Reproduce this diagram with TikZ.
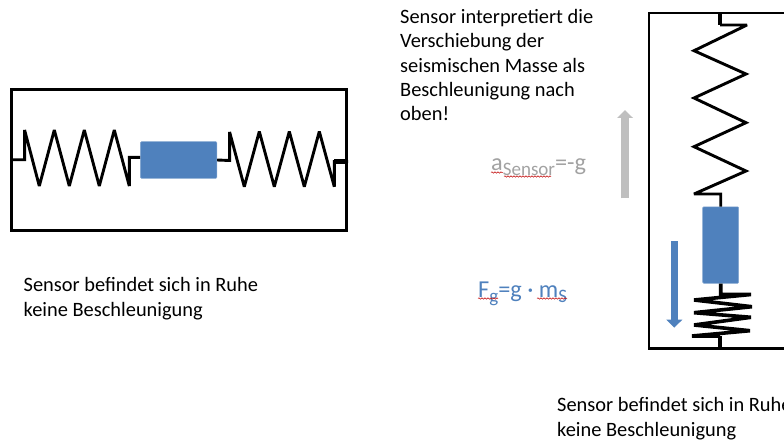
\documentclass[tikz,border=0pt]{standalone}
\usepackage{fontspec}
\setmainfont{Carlito}
\usetikzlibrary{arrows.meta,decorations.pathmorphing}
\definecolor{massblue}{HTML}{4F81BD}
\definecolor{accgray}{HTML}{BFBFBF}
\tikzset{
  rahmen/.style={draw=black,line width=2.7pt,inner sep=0pt},
  feder/.style={draw=black,line width=2.9pt,line join=miter,miter limit=3},
  masse/.style={fill=massblue,draw=massblue!70!white,line width=0.5pt,rounded corners=1pt,inner sep=0pt},
  txt/.style={font=\fontsize{20.4}{24.4}\selectfont,align=left,anchor=base west,inner sep=0pt},
  formel/.style={font=\fontsize{24.3}{28}\selectfont,anchor=base west,inner sep=0pt},
  pfeil/.style={line width=7.5pt,-{Triangle[width=15.5pt,length=8pt]}},
  wavy/.style={draw=red!75!black,line width=0.5pt,decorate,decoration={snake,amplitude=0.7pt,segment length=3pt}}
}
\newcommand{\sub}[1]{\raisebox{-5pt}{\fontsize{19}{22}\selectfont #1}}
\begin{document}
\begin{tikzpicture}[x=1pt,y=-1pt]
  \useasboundingbox (0,0) rectangle (784,441);
  \clip (0,0) rectangle (784,441);
  % left sensor
  \node[rahmen,minimum width=335pt,minimum height=141pt] (rahmenL) at (179.2,159.7) {};
  \node[masse,minimum width=76.5pt,minimum height=36.5pt] (masseL) at (178.7,160) {};
  \draw[feder] (rahmenL.west) -- (24.6,159.7) -- (24.6,130) -- (39.3,186) -- (54.3,130) -- (69.3,186)
    -- (84.3,130) -- (99.3,186) -- (114.3,130) -- (129.3,186) -- (129.3,157.3) -- (masseL.west |- 0,157.3);
  \draw[feder] (masseL.east) -- (229.6,160.5) -- (229.6,132) -- (244.3,186.7) -- (259.3,131.5) -- (274.3,186.7)
    -- (289.3,131.5) -- (304.3,186.7) -- (319.3,131.5) -- (334.3,186.7) -- (334.3,161.5) -- (rahmenL.east |- 0,161.5);
  \draw[line width=4.4pt] (334.3,161.5) -- (rahmenL.east |- 0,161.5);
  % right sensor
  \node[rahmen,minimum width=171pt,minimum height=335.3pt] (rahmenR) at (734.5,180.7) {};
  \node[masse,minimum width=36pt,minimum height=76.5pt] (masseR) at (720.7,245) {};
  \coordinate (obenR) at (720,13);
  \coordinate (untenR) at (720,348.3);
  \draw[line width=4.6pt] (obenR) -- (720,25);
  \draw[feder] (720,25) -- (747,25) -- (694,50.7) -- (746,74) -- (694,98) -- (746,122.7) -- (694,146.7)
    -- (746,171) -- (694,194) -- (720.7,194) -- (masseR.north);
  \draw[feder,line width=3.6pt] (masseR.south) -- (720.7,294.5) -- (751,294.5) -- (694,300) -- (752,306.7) -- (694,312.7)
    -- (751,317.3) -- (694,325) -- (750,330.7) -- (692,336) -- (720,336);
  \draw[line width=4.6pt] (720,336) -- (untenR);
  % arrows
  \coordinate (grauA) at (625,198.3);
  \coordinate (grauB) at (625,110);
  \coordinate (blauA) at (674.3,241);
  \coordinate (blauB) at (674.3,327.7);
  \draw[pfeil,accgray] (grauA) -- (grauB);
  \draw[pfeil,massblue] (blauA) -- (blauB);
  % text
  \node[txt] (erklaerung) at (400,121) {Sensor interpretiert die\\Verschiebung der\\seismischen Masse als\\Beschleunigung nach\\oben!};
  \node[txt] (ruheL) at (23.5,316) {Sensor befindet sich in Ruhe\\keine Beschleunigung};
  \node[txt] (ruheR) at (557,436) {Sensor befindet sich in Ruhe\\keine Beschleunigung};
  \node[formel,text=accgray!85!black] (asensor) at (491,170.5) {a\sub{Sensor}=-g};
  \node[formel,text=massblue] (fg) at (478,297.5) {F\sub{g}=g · m\sub{S}};
  % spelling marks
  \draw[wavy] (491,172.5) -- (503,172.5);
  \draw[wavy] (504,176.5) -- (551,176.5);
  \draw[wavy] (478,298.5) -- (498,298.5);
  \draw[wavy] (537,298.5) -- (567,298.5);
\end{tikzpicture}
\end{document}
